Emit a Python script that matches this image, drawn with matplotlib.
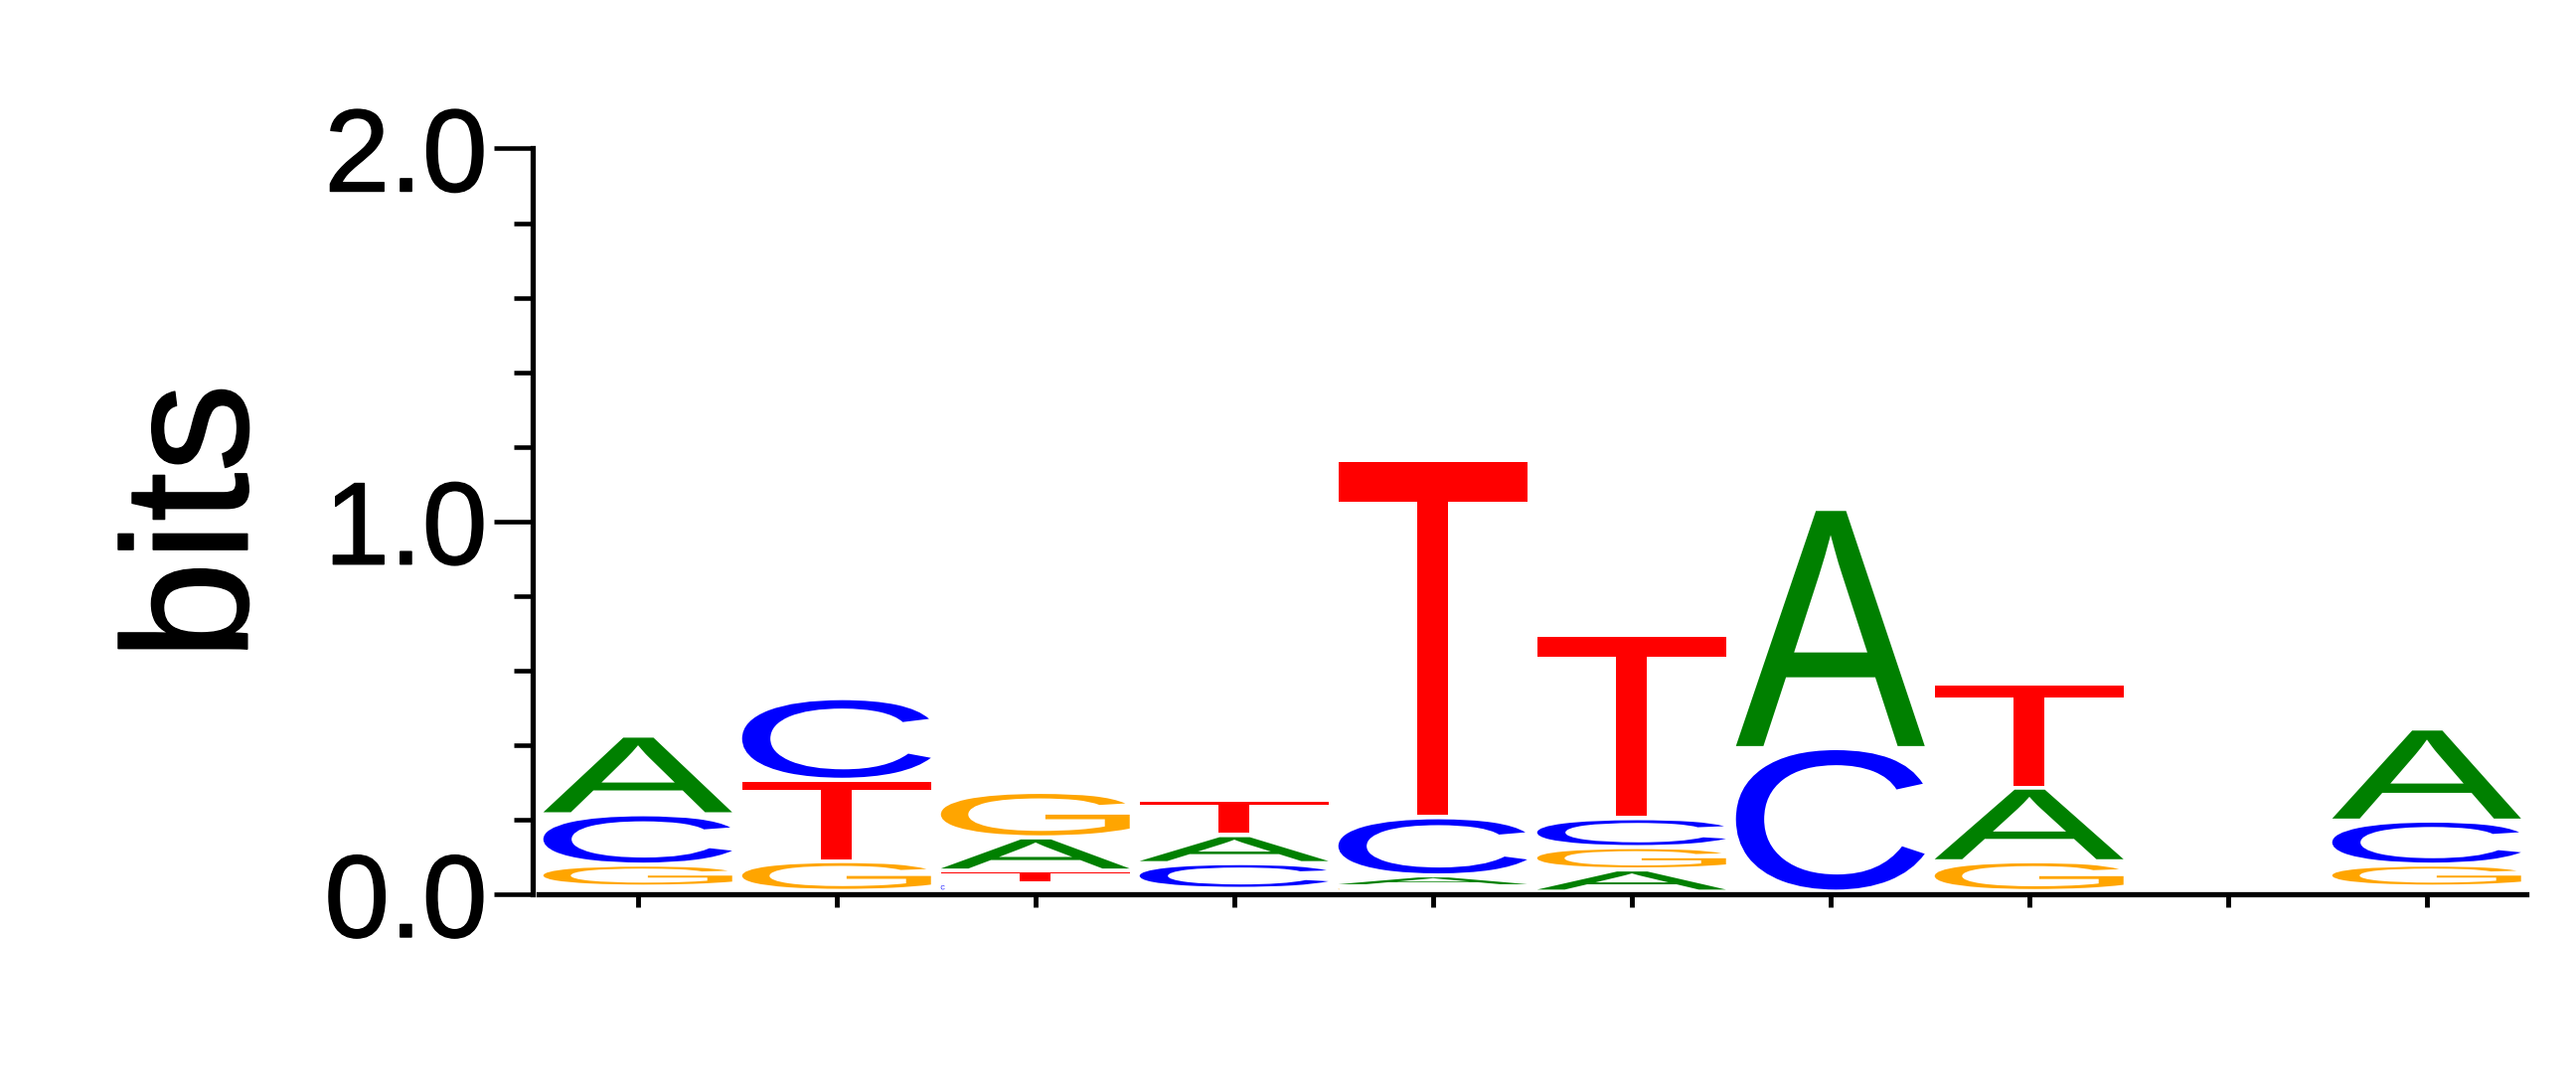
import matplotlib
matplotlib.use("Agg")
import matplotlib.pyplot as plt
import matplotlib.patheffects as pe
from matplotlib.textpath import TextPath
from matplotlib.patches import PathPatch
from matplotlib.font_manager import FontProperties
from matplotlib.transforms import Affine2D
from matplotlib.ticker import MultipleLocator

# sequence logo, heights in bits for each position
positions = [1, 2, 3, 4, 5, 6, 7, 8, 9, 10]
A = [0.211, 0.002, 0.089, 0.075, 0.029, 0.0595, 0.6415, 0.1975, 0.0, 0.247]
C = [0.135, 0.219, 0.0225, 0.069, 0.156, 0.0775, 0.385, 0.0015, 0.0, 0.118]
G = [0.059, 0.080, 0.122, 0.0075, 0.0145, 0.060, 0.0, 0.080, 0.0, 0.059]
T = [0.0135, 0.218, 0.034, 0.095, 0.957, 0.493, 0.0, 0.278, 0.0, 0.0135]

letters = ["A", "C", "G", "T"]
heights = {"A": A, "C": C, "G": G, "T": T}
colors = {"A": "#008000", "C": "#0000FF", "G": "#FFA500", "T": "#FF0000"}

plt.rcParams["font.family"] = ["Liberation Sans", "DejaVu Sans"]
fp = FontProperties(family="Liberation Sans")
thick = [pe.withStroke(linewidth=1.0, foreground="black")]

fig = plt.figure(figsize=(25.92, 10.92), dpi=100)
ax = fig.add_axes([0.2090, 0.1758, 0.7716, 0.6873])
ax.set_xlim(0.5, 10.5)
ax.set_ylim(0, 2)

# pixels per data unit, used for the tiny letters
p0 = ax.transData.transform((0, 0))
p1 = ax.transData.transform((1, 1))
px_x = p1[0] - p0[0]
px_y = p1[1] - p0[1]

base = 0.007
pad = 0.0055
col_w = 0.95


def draw_letter(ch, x0, y0, w, h, color, tiny=False):
    tp = TextPath((0, 0), ch, size=1, prop=fp)
    bb = tp.get_extents()
    if tiny:
        # too small to stretch: keep natural shape at the left of the box
        w = h * px_y / px_x * bb.width / bb.height
    tr = Affine2D().translate(-bb.x0, -bb.y0).scale(w / bb.width, h / bb.height).translate(x0, y0)
    ax.add_patch(PathPatch(tr.transform_path(tp), fc=color, ec="none", lw=0))


for i, pos in enumerate(positions):
    col = sorted(letters, key=lambda l: heights[l][i])
    y = base
    for l in col:
        h = heights[l][i]
        if h <= 0:
            continue
        gh = h - 2 * pad
        if gh > 0:
            draw_letter(l, pos - col_w / 2, y + pad, col_w, gh, colors[l], tiny=gh < 0.016)
        y += h

# axes styling
for s in ["top", "right"]:
    ax.spines[s].set_visible(False)
ax.spines["left"].set_linewidth(3.8)
ax.spines["bottom"].set_linewidth(3.8)
ax.spines["left"].set_position(("outward", 4))

ax.set_xticks(positions)
ax.set_xticklabels([])
ax.tick_params(axis="x", length=9, width=3.5, direction="out")

ax.set_yticks([0, 1, 2])
ax.set_yticklabels(["0.0", "1.0", "2.0"])
for t in ax.get_yticklabels():
    t.set_path_effects(thick)
ax.yaxis.set_minor_locator(MultipleLocator(0.2))
ax.tick_params(axis="y", which="major", length=28, width=3.3, labelsize=85, pad=5)
ax.tick_params(axis="y", which="minor", length=13.7, width=3.3)

fig.text(0.096, 0.519, "bits", rotation=90, rotation_mode="anchor",
         ha="center", va="baseline", fontsize=129, path_effects=thick)

fig.savefig("out.png", dpi=100)
